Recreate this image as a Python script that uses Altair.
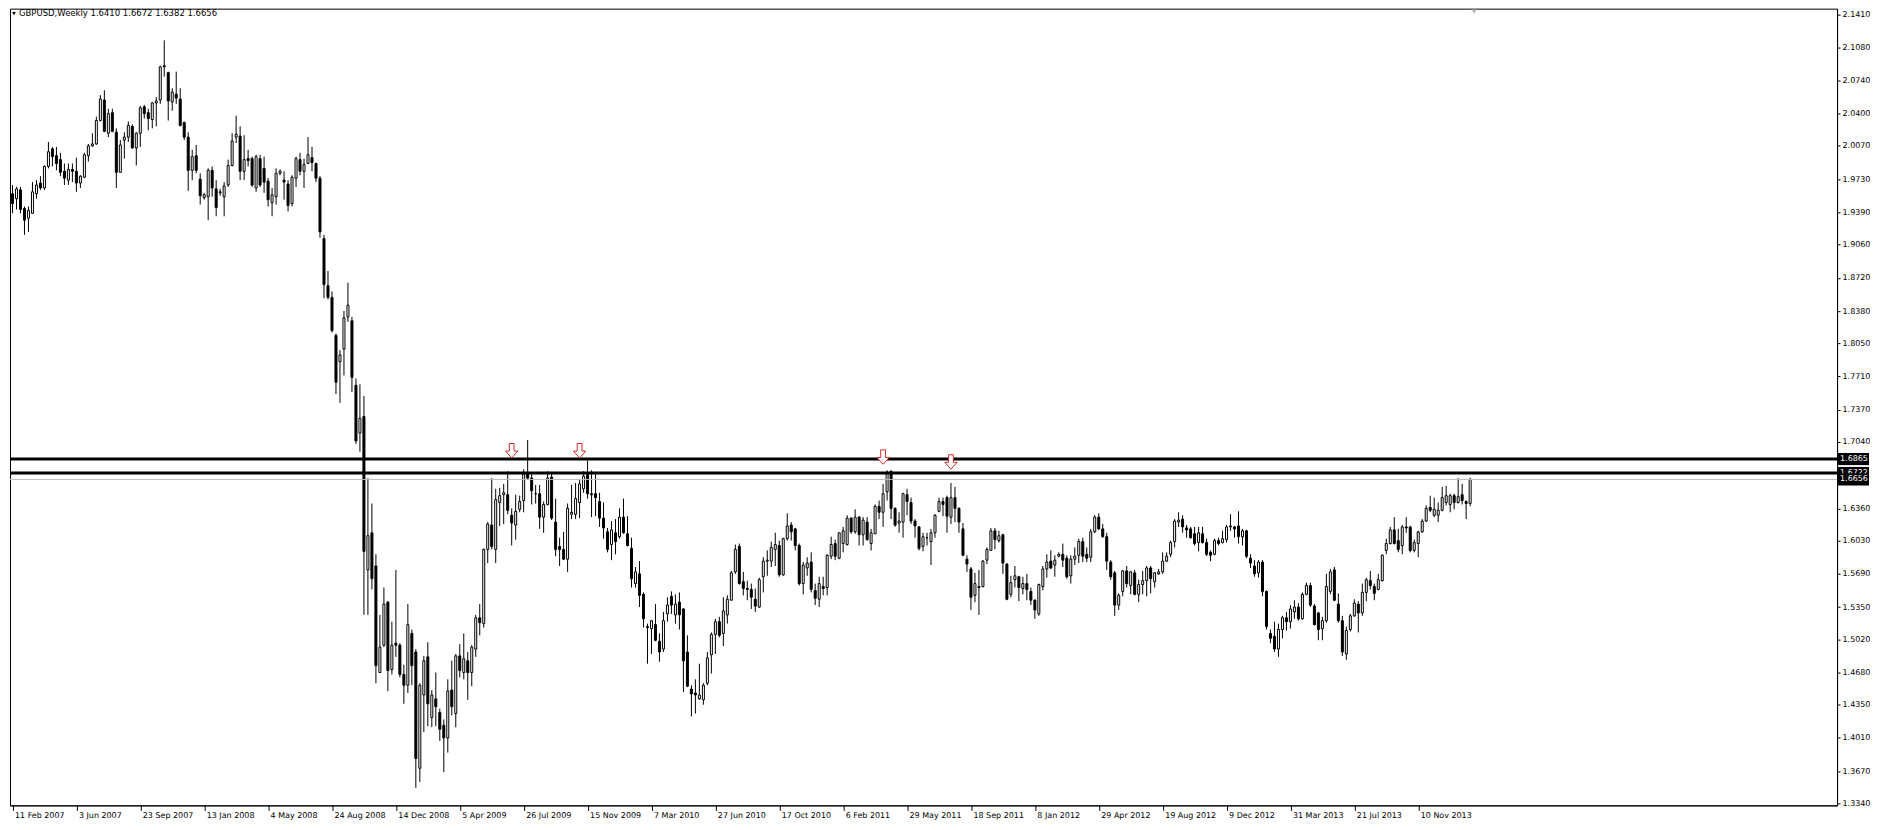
import json
import altair as alt
import pandas as pd

# ---------------- data ----------------
date_labels = ["11 Feb 2007", "3 Jun 2007", "23 Sep 2007", "13 Jan 2008", "4 May 2008",
               "24 Aug 2008", "14 Dec 2008", "5 Apr 2009", "26 Jul 2009", "15 Nov 2009",
               "7 Mar 2010", "27 Jun 2010", "17 Oct 2010", "6 Feb 2011", "29 May 2011",
               "18 Sep 2011", "8 Jan 2012", "29 Apr 2012", "19 Aug 2012", "9 Dec 2012",
               "31 Mar 2013", "21 Jul 2013", "10 Nov 2013"]
date_ticks = [16 * k for k in range(len(date_labels))]

price_ticks = [2.1410, 2.1080, 2.0740, 2.0400, 2.0070, 1.9730, 1.9390, 1.9060, 1.8720,
               1.8380, 1.8050, 1.7710, 1.7370, 1.7040, 1.6360, 1.6030, 1.5690, 1.5350,
               1.5020, 1.4680, 1.4350, 1.4010, 1.3670, 1.3340]

O = [1.958,1.953,1.962,1.943,1.933,1.938,1.958,1.969,1.964,1.986,
     2.004,1.997,1.993,1.981,1.972,1.983,1.981,1.969,1.975,1.997,
     2.007,2.009,2.033,2.054,2.020,2.041,2.021,1.980,2.013,2.016,
     2.027,2.005,2.020,2.047,2.041,2.034,2.051,2.054,2.089,2.082,
     2.052,2.060,2.055,2.031,2.016,1.982,1.997,1.973,1.954,1.955,
     1.982,1.963,1.959,1.955,1.967,1.987,2.016,2.017,1.981,1.994,
     1.994,1.964,1.994,1.984,1.971,1.949,1.955,1.979,1.972,1.968,
     1.948,1.974,1.993,1.981,1.989,1.995,1.989,1.974,1.912,1.864,
     1.852,1.813,1.786,1.799,1.832,1.828,1.762,1.713,1.730,1.573,
     1.611,1.577,1.468,1.496,1.540,1.471,1.498,1.496,1.466,1.455,
     1.508,1.489,1.370,1.445,1.484,1.422,1.441,1.427,1.414,1.401,
     1.450,1.426,1.485,1.468,1.480,1.468,1.492,1.524,1.518,1.594,
     1.619,1.594,1.642,1.650,1.650,1.629,1.619,1.635,1.644,1.671,
     1.667,1.651,1.651,1.627,1.640,1.668,1.622,1.597,1.594,1.584,
     1.630,1.630,1.642,1.656,1.672,1.651,1.651,1.643,1.626,1.612,
     1.599,1.611,1.607,1.627,1.610,1.595,1.559,1.569,1.548,1.515,
     1.513,1.517,1.500,1.492,1.528,1.546,1.527,1.540,1.533,1.489,
     1.451,1.447,1.441,1.440,1.457,1.486,1.507,1.520,1.508,1.527,
     1.542,1.571,1.597,1.561,1.554,1.553,1.543,1.535,1.566,1.582,
     1.582,1.594,1.598,1.568,1.605,1.619,1.615,1.598,1.559,1.575,
     1.581,1.552,1.543,1.556,1.555,1.587,1.600,1.585,1.600,1.599,
     1.626,1.612,1.627,1.609,1.622,1.600,1.610,1.638,1.632,1.653,
     1.674,1.636,1.621,1.622,1.650,1.642,1.623,1.617,1.597,1.606,
     1.602,1.611,1.633,1.643,1.647,1.627,1.647,1.636,1.615,1.584,
     1.574,1.547,1.556,1.556,1.583,1.593,1.613,1.603,1.609,1.579,
     1.548,1.563,1.566,1.554,1.559,1.551,1.542,1.528,1.556,1.574,
     1.582,1.578,1.587,1.589,1.585,1.567,1.584,1.588,1.602,1.589,
     1.586,1.612,1.627,1.615,1.607,1.581,1.570,1.537,1.551,1.572,
     1.557,1.570,1.548,1.558,1.562,1.575,1.561,1.569,1.571,1.582,
     1.589,1.602,1.622,1.625,1.616,1.615,1.610,1.601,1.610,1.601,
     1.591,1.589,1.603,1.601,1.604,1.617,1.617,1.618,1.607,1.613,
     1.585,1.577,1.570,1.581,1.551,1.508,1.505,1.492,1.512,1.524,
     1.520,1.530,1.535,1.523,1.548,1.557,1.536,1.529,1.513,1.521,
     1.551,1.573,1.538,1.521,1.487,1.512,1.526,1.538,1.529,1.550,
     1.562,1.556,1.553,1.562,1.593,1.600,1.614,1.603,1.598,1.617,
     1.617,1.593,1.600,1.612,1.623,1.637,1.629,1.629,1.634,1.642,
     1.640,1.649,1.642,1.650,1.643,1.6410]

H = [1.967,1.965,1.965,1.945,1.945,1.970,1.972,1.976,1.987,2.011,
     2.006,2.006,2.000,1.989,1.989,1.989,1.995,1.977,2.000,2.009,
     2.020,2.037,2.059,2.064,2.045,2.045,2.025,2.013,2.021,2.032,
     2.029,2.021,2.048,2.049,2.045,2.052,2.057,2.089,2.115,2.083,
     2.066,2.083,2.066,2.032,2.021,2.003,2.008,1.979,1.959,1.984,
     1.986,1.972,1.963,1.970,1.993,2.020,2.038,2.027,2.018,2.003,
     1.996,1.998,1.998,1.996,1.974,1.964,1.984,1.983,1.981,1.972,
     1.977,1.996,2.000,1.994,2.016,2.006,1.990,1.976,1.916,1.879,
     1.858,1.815,1.798,1.838,1.867,1.832,1.769,1.763,1.751,1.667,
     1.641,1.589,1.527,1.555,1.541,1.520,1.573,1.498,1.476,1.538,
     1.512,1.492,1.457,1.485,1.499,1.450,1.468,1.431,1.420,1.461,
     1.480,1.487,1.497,1.508,1.489,1.496,1.527,1.538,1.595,1.622,
     1.667,1.656,1.657,1.661,1.674,1.636,1.650,1.649,1.676,1.706,
     1.671,1.660,1.660,1.643,1.674,1.671,1.646,1.606,1.612,1.641,
     1.660,1.662,1.665,1.674,1.685,1.675,1.671,1.652,1.642,1.616,
     1.623,1.625,1.636,1.646,1.628,1.606,1.576,1.582,1.550,1.518,
     1.522,1.538,1.508,1.530,1.545,1.551,1.548,1.550,1.534,1.506,
     1.455,1.461,1.477,1.457,1.489,1.509,1.523,1.525,1.545,1.547,
     1.572,1.599,1.600,1.571,1.562,1.559,1.554,1.565,1.586,1.593,
     1.602,1.611,1.603,1.606,1.631,1.622,1.616,1.600,1.581,1.586,
     1.591,1.559,1.566,1.566,1.589,1.607,1.604,1.611,1.617,1.629,
     1.627,1.635,1.628,1.627,1.627,1.615,1.640,1.644,1.661,1.675,
     1.675,1.637,1.632,1.652,1.656,1.647,1.625,1.618,1.611,1.611,
     1.615,1.630,1.647,1.647,1.649,1.662,1.658,1.637,1.621,1.588,
     1.576,1.570,1.573,1.583,1.596,1.616,1.616,1.613,1.610,1.580,
     1.567,1.577,1.567,1.566,1.569,1.555,1.543,1.559,1.577,1.589,
     1.593,1.588,1.591,1.600,1.588,1.588,1.596,1.605,1.606,1.596,
     1.615,1.629,1.631,1.620,1.611,1.583,1.572,1.549,1.573,1.577,
     1.572,1.573,1.563,1.572,1.577,1.577,1.571,1.574,1.591,1.591,
     1.603,1.625,1.632,1.629,1.619,1.617,1.617,1.617,1.617,1.605,
     1.593,1.605,1.606,1.613,1.619,1.630,1.618,1.633,1.615,1.614,
     1.589,1.583,1.583,1.583,1.552,1.512,1.520,1.518,1.526,1.530,
     1.537,1.542,1.539,1.550,1.560,1.560,1.538,1.530,1.525,1.569,
     1.574,1.576,1.549,1.526,1.515,1.528,1.543,1.541,1.559,1.565,
     1.572,1.559,1.569,1.589,1.605,1.617,1.627,1.615,1.619,1.627,
     1.618,1.604,1.613,1.625,1.639,1.649,1.647,1.642,1.658,1.659,
     1.651,1.651,1.667,1.661,1.644,1.6672]

L = [1.938,1.942,1.938,1.916,1.919,1.938,1.953,1.962,1.962,1.984,
     1.986,1.982,1.976,1.967,1.967,1.970,1.960,1.964,1.974,1.991,
     2.006,2.008,2.032,2.021,2.016,2.021,1.964,1.980,1.994,2.011,
     2.004,1.987,2.006,2.035,2.023,2.025,2.027,2.050,2.078,2.033,
     2.043,2.050,2.027,2.013,1.961,1.972,1.979,1.947,1.952,1.931,
     1.955,1.935,1.956,1.935,1.965,1.986,2.010,1.972,1.972,1.986,
     1.965,1.960,1.965,1.959,1.945,1.935,1.947,1.977,1.952,1.940,
     1.945,1.965,1.977,1.964,1.989,1.981,1.970,1.913,1.851,1.850,
     1.816,1.753,1.744,1.772,1.827,1.755,1.702,1.694,1.527,1.527,
     1.553,1.457,1.468,1.494,1.449,1.466,1.484,1.463,1.436,1.447,
     1.455,1.350,1.356,1.407,1.413,1.412,1.413,1.398,1.366,1.386,
     1.424,1.412,1.463,1.461,1.440,1.454,1.484,1.506,1.514,1.580,
     1.594,1.580,1.618,1.620,1.630,1.598,1.604,1.632,1.632,1.665,
     1.640,1.641,1.615,1.611,1.639,1.624,1.587,1.577,1.583,1.571,
     1.625,1.625,1.626,1.652,1.646,1.627,1.628,1.617,1.605,1.591,
     1.583,1.589,1.605,1.610,1.597,1.555,1.555,1.535,1.514,1.477,
     1.487,1.500,1.479,1.489,1.520,1.528,1.518,1.512,1.448,1.453,
     1.423,1.426,1.440,1.435,1.455,1.467,1.487,1.504,1.495,1.518,
     1.542,1.569,1.558,1.547,1.542,1.533,1.530,1.534,1.550,1.567,
     1.576,1.577,1.566,1.567,1.603,1.603,1.593,1.557,1.548,1.567,
     1.550,1.537,1.535,1.547,1.547,1.584,1.583,1.584,1.591,1.598,
     1.610,1.610,1.598,1.598,1.603,1.593,1.610,1.625,1.617,1.644,
     1.625,1.617,1.611,1.606,1.629,1.620,1.606,1.593,1.592,1.598,
     1.578,1.606,1.632,1.628,1.611,1.620,1.622,1.611,1.587,1.571,
     1.532,1.540,1.527,1.555,1.579,1.593,1.594,1.601,1.569,1.542,
     1.545,1.555,1.541,1.548,1.542,1.537,1.523,1.526,1.552,1.565,
     1.574,1.566,1.586,1.576,1.564,1.559,1.578,1.580,1.581,1.581,
     1.581,1.611,1.614,1.606,1.573,1.563,1.526,1.532,1.546,1.555,
     1.548,1.547,1.540,1.548,1.546,1.549,1.555,1.568,1.569,1.581,
     1.586,1.596,1.617,1.611,1.606,1.605,1.598,1.592,1.600,1.587,
     1.582,1.588,1.598,1.600,1.601,1.613,1.606,1.600,1.598,1.585,
     1.575,1.566,1.565,1.546,1.512,1.498,1.489,1.484,1.503,1.511,
     1.513,1.523,1.521,1.522,1.547,1.535,1.516,1.501,1.501,1.519,
     1.548,1.541,1.519,1.485,1.481,1.510,1.525,1.509,1.526,1.541,
     1.553,1.542,1.552,1.561,1.589,1.599,1.599,1.591,1.589,1.611,
     1.591,1.591,1.586,1.611,1.622,1.632,1.627,1.622,1.633,1.639,
     1.632,1.635,1.641,1.640,1.625,1.6382]

C = [1.948,1.963,1.942,1.931,1.941,1.960,1.967,1.964,1.986,2.001,
     1.996,1.989,1.980,1.974,1.983,1.981,1.969,1.976,1.998,2.007,
     2.009,2.033,2.055,2.022,2.040,2.022,1.980,2.008,2.016,2.028,
     2.005,2.020,2.046,2.040,2.035,2.051,2.053,2.088,2.088,2.053,
     2.062,2.056,2.028,2.016,1.982,1.996,1.982,1.956,1.957,1.982,
     1.964,1.944,1.960,1.966,1.987,2.012,2.019,1.981,1.993,1.992,
     1.967,1.996,1.967,1.970,1.952,1.957,1.979,1.981,1.970,1.946,
     1.975,1.994,1.981,1.988,1.998,1.990,1.974,1.919,1.865,1.852,
     1.818,1.765,1.793,1.831,1.844,1.770,1.705,1.728,1.592,1.608,
     1.564,1.475,1.494,1.538,1.470,1.496,1.496,1.466,1.455,1.517,
     1.475,1.380,1.455,1.480,1.436,1.445,1.433,1.410,1.401,1.449,
     1.433,1.485,1.470,1.482,1.468,1.494,1.524,1.519,1.594,1.620,
     1.597,1.645,1.649,1.652,1.634,1.621,1.633,1.643,1.671,1.667,
     1.654,1.651,1.627,1.640,1.667,1.626,1.594,1.594,1.584,1.636,
     1.632,1.646,1.661,1.669,1.651,1.650,1.647,1.626,1.616,1.594,
     1.614,1.602,1.627,1.611,1.598,1.564,1.571,1.547,1.523,1.514,
     1.521,1.501,1.489,1.521,1.537,1.537,1.538,1.527,1.480,1.454,
     1.446,1.445,1.445,1.455,1.483,1.507,1.520,1.506,1.531,1.543,
     1.570,1.594,1.559,1.554,1.553,1.545,1.536,1.563,1.582,1.583,
     1.596,1.599,1.568,1.605,1.618,1.612,1.598,1.559,1.578,1.580,
     1.553,1.544,1.559,1.554,1.588,1.599,1.587,1.611,1.613,1.626,
     1.612,1.627,1.609,1.624,1.604,1.611,1.638,1.632,1.651,1.673,
     1.636,1.619,1.623,1.651,1.643,1.623,1.618,1.595,1.607,1.606,
     1.611,1.629,1.643,1.640,1.628,1.647,1.636,1.622,1.588,1.579,
     1.545,1.559,1.555,1.582,1.594,1.613,1.604,1.608,1.580,1.543,
     1.560,1.567,1.555,1.559,1.553,1.542,1.532,1.558,1.574,1.581,
     1.575,1.583,1.589,1.583,1.566,1.584,1.587,1.602,1.587,1.585,
     1.612,1.627,1.615,1.607,1.582,1.566,1.537,1.547,1.572,1.559,
     1.571,1.548,1.558,1.562,1.575,1.564,1.570,1.571,1.582,1.587,
     1.601,1.623,1.624,1.617,1.614,1.606,1.600,1.611,1.601,1.589,
     1.588,1.603,1.600,1.605,1.617,1.618,1.615,1.607,1.613,1.587,
     1.580,1.569,1.581,1.551,1.515,1.503,1.492,1.512,1.524,1.520,
     1.533,1.535,1.523,1.548,1.557,1.537,1.517,1.512,1.521,1.556,
     1.571,1.542,1.521,1.489,1.511,1.526,1.539,1.529,1.550,1.563,
     1.557,1.549,1.563,1.588,1.600,1.614,1.600,1.594,1.617,1.616,
     1.593,1.601,1.612,1.623,1.636,1.634,1.635,1.634,1.647,1.649,
     1.649,1.642,1.648,1.644,1.641,1.6656]

level_prices = [1.6865, 1.6722]          # thick horizontal lines
bid_price = 1.6656                        # grey current-price line
arrow_idx = [125, 142, 218, 235]          # red down arrows
arrow_price = [1.6950, 1.6950, 1.6885, 1.6835]
symbol = "GBPUSD,Weekly"

# ---------------- layout ----------------
W, HT = 1830, 798
xscale = alt.Scale(domain=[-0.625, 456.875], nice=False, zero=False, padding=0)
yscale = alt.Scale(domain=[1.3320, 2.1475], nice=False, zero=False, padding=0)
FONT = "DejaVu Sans"

label_expr = json.dumps(date_labels) + "[round(datum.value / 16)]"
x_axis = alt.Axis(values=date_ticks, labelExpr=label_expr, labelAlign="left",
                  labelOffset=2, labelPadding=1, tickSize=5, labelBaseline="top",
                  labelOverlap=False, labelBound=False, labelFlush=False, grid=False)
y_axis = alt.Axis(orient="right", values=price_ticks, format=".4f", tickSize=3,
                  labelPadding=2, grid=False, labelOverlap=False)


def X(field):
    return alt.X(field, type="quantitative", scale=xscale, axis=x_axis, title=None)


def Y(field):
    return alt.Y(field, type="quantitative", scale=yscale, axis=y_axis, title=None)


df = pd.DataFrame({"i": list(range(len(O))), "o": O, "h": H, "l": L, "c": C})

wicks = alt.Chart(df).mark_rule(color="black", strokeWidth=1).encode(
    x=X("i"), y=Y("l"), y2="h")

bodies = alt.Chart(df).mark_bar(size=2, stroke="black", strokeWidth=1).encode(
    x=X("i"), y=Y("o"), y2="c",
    fill=alt.condition("datum.c >= datum.o", alt.value("white"), alt.value("black")))

bid_df = pd.DataFrame({"p": [bid_price]})
bid_line = alt.Chart(bid_df).mark_rule(color="#bdbdbd", strokeWidth=1).encode(y=Y("p"))

lv_df = pd.DataFrame({"p": level_prices})
lv_lines = alt.Chart(lv_df).mark_rule(color="black", strokeWidth=3,
                                      strokeCap="butt").encode(y=Y("p"))

ARROW = "M -0.33 -1 L 0.33 -1 L 0.33 0.05 L 0.85 0.05 L 0 1 L -0.85 0.05 L -0.33 0.05 Z"
ar_df = pd.DataFrame({"i": arrow_idx, "p": arrow_price})
arrows = alt.Chart(ar_df).mark_point(shape=ARROW, filled=True, fill="white",
                                     stroke="#d42a2a", strokeWidth=1, size=210,
                                     opacity=1).encode(x=X("i"), y=Y("p"))

box_prices = level_prices + [bid_price]
box_df = pd.DataFrame({"p": box_prices,
                       "lo": [p - 0.0062 for p in box_prices],
                       "hi": [p + 0.0062 for p in box_prices],
                       "t": [f"{p:.4f}" for p in box_prices],
                       "k": list(range(len(box_prices)))})
boxes = []
for k in range(len(box_prices)):
    sub = box_df[box_df.k == k]
    boxes.append(alt.Chart(sub).mark_rect(color="black").encode(
        x=alt.value(W + 1), x2=alt.value(W + 32), y=Y("lo"), y2="hi"))
    boxes.append(alt.Chart(sub).mark_text(color="white", align="left", baseline="middle",
                                          font=FONT, fontSize=8).encode(
        x=alt.value(W + 3), y=Y("p"), text="t:N"))

hdr_df = pd.DataFrame({"t": [f"{symbol}  {O[-1]:.4f} {H[-1]:.4f} {L[-1]:.4f} {C[-1]:.4f}"]})
header = alt.Chart(hdr_df).mark_text(align="left", baseline="top", font=FONT,
                                     fontSize=8.5, color="black").encode(
    x=alt.value(9), y=alt.value(0), text="t:N")
hdr_mark = alt.Chart(hdr_df).mark_point(shape="triangle-down", filled=True, color="black",
                                        size=14, opacity=1).encode(
    x=alt.value(4), y=alt.value(5))

shift_df = pd.DataFrame({"i": [len(O)]})
shift_mark = alt.Chart(shift_df).mark_point(shape="triangle-down", filled=True,
                                            color="#b4b4b4", size=24, opacity=1).encode(
    x=X("i"), y=alt.value(3))

chart = alt.layer(wicks, bodies, bid_line, lv_lines, arrows, *boxes, header, hdr_mark,
                  shift_mark).properties(
    width=W, height=HT, background="white",
    padding={"left": 0, "top": 0, "right": 0, "bottom": 0},
    autosize=alt.AutoSizeParams(type="pad", contains="content")
).configure(padding={"left": 0, "top": 0, "right": 0, "bottom": 0}
).configure_view(stroke="black", strokeWidth=1).configure_axis(
    labelFont=FONT, labelFontSize=8, labelColor="black", domainColor="black",
    tickColor="black", domainWidth=1, tickWidth=1)

chart.save("out.html", embed_options={"renderer": "svg", "actions": False})
